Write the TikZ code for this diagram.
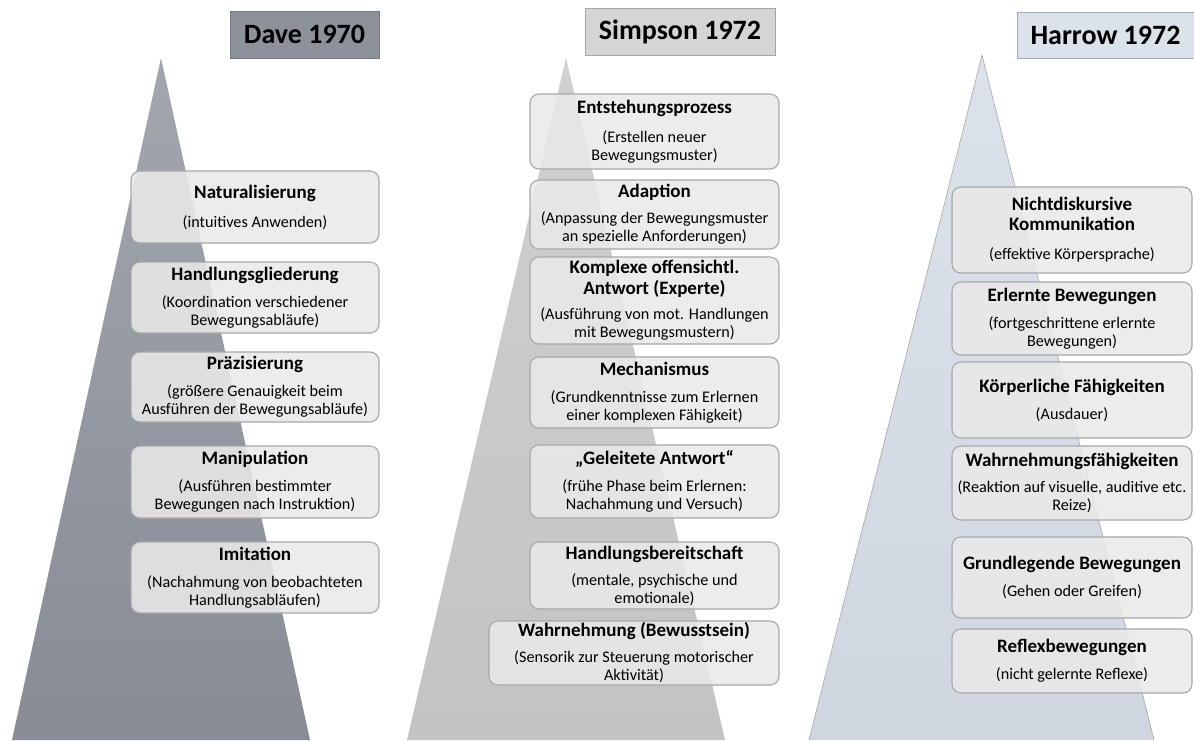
\documentclass[tikz,border=0pt]{standalone}
\usepackage{fontspec}
\setmainfont{Carlito}
\definecolor{daveoben}{HTML}{A2A6AD}
\definecolor{daveunten}{HTML}{878C95}
\definecolor{simpoben}{HTML}{D0D0D0}
\definecolor{simpunten}{HTML}{C3C3C3}
\definecolor{harroben}{HTML}{DCE2EA}
\definecolor{harrunten}{HTML}{CFD6E0}
\definecolor{boxgrau}{HTML}{E9E9E9}
\definecolor{boxrand}{HTML}{A8A8A8}
\newcommand{\titel}[1]{{\fontsize{19}{22}\selectfont\bfseries #1}}
\begin{document}
\begin{tikzpicture}[x=1pt,y=-1pt,
	stufe/.style={draw=boxrand, line width=1.1pt, fill=boxgrau, fill opacity=0.88, text opacity=1,
		rounded corners=9pt, align=center, inner sep=0pt, font=\fontsize{16.2}{18}\selectfont},
	kopf/.style={line width=0.8pt, inner sep=0pt, font=\fontsize{28}{32}\selectfont\bfseries}]
			%\draw[help lines, color=gray!30] (0,0) grid[step=50] (1194,740);
			\useasboundingbox (0,0) rectangle (1194,740);
			% Pyramiden
			\shade[top color=daveoben, bottom color=daveunten] (161,58) -- (12,740) -- (310,740) -- cycle;
			\shade[top color=simpoben, bottom color=simpunten] (566,58) -- (407,740) -- (725,740) -- cycle;
			\shade[top color=harroben, bottom color=harrunten] (982,55) -- (809,740) -- (1154,740) -- cycle;
			\draw[gray!70, line width=0.6pt] (809,740) -- (982,55) -- (1154,740);
			% Ueberschriften
			\node[kopf, fill=daveunten!95!white, draw=daveunten!85!black, minimum width=149pt, minimum height=47pt] (dave) at (304.5,34.5) {Dave 1970};
			\node[kopf, fill=simpoben!90!white, draw=simpunten!85!black, minimum width=190pt, minimum height=47pt] (simpson) at (680,31.5) {Simpson 1972};
			\node[kopf, fill=harroben, draw=harrunten!80!black, minimum width=177pt, minimum height=46pt] (harrow) at (1105.5,35) {Harrow 1972};
			% Dave
			\node[stufe, minimum width=248pt, minimum height=72pt] (natur) at (255,207) {\titel{Naturalisierung}\\[11pt](intuitives Anwenden)};
			\node[stufe, minimum width=248pt, minimum height=71pt] (gliederung) at (255,297.5) {\titel{Handlungsgliederung}\\[9pt](Koordination verschiedener\\Bewegungsabläufe)};
			\node[stufe, minimum width=248pt, minimum height=70pt] (praez) at (255,387) {\titel{Präzisierung}\\[9pt](größere Genauigkeit beim\\Ausführen der Bewegungsabläufe)};
			\node[stufe, minimum width=248pt, minimum height=72pt] (manip) at (255,482) {\titel{Manipulation}\\[9pt](Ausführen bestimmter\\Bewegungen nach Instruktion)};
			\node[stufe, minimum width=248pt, minimum height=71pt] (imit) at (255,577.5) {\titel{Imitation}\\[9pt](Nachahmung von beobachteten\\Handlungsabläufen)};
			% Simpson
			\node[stufe, minimum width=249pt, minimum height=75pt] (entsteh) at (654.5,131.5) {\titel{Entstehungsprozess}\\[11pt](Erstellen neuer\\Bewegungsmuster)};
			\node[stufe, minimum width=249pt, minimum height=69pt] (adapt) at (654.5,214.5) {\titel{Adaption}\\[8pt](Anpassung der Bewegungsmuster\\an spezielle Anforderungen)};
			\node[stufe, minimum width=249pt, minimum height=87pt] (komplex) at (654.5,300.5) {\titel{Komplexe offensichtl.}\\[3pt]\titel{Antwort (Experte)}\\[7pt](Ausführung von mot. Handlungen\\mit Bewegungsmustern)};
			\node[stufe, minimum width=249pt, minimum height=71pt] (mechan) at (654.5,392.5) {\titel{Mechanismus}\\[9pt](Grundkenntnisse zum Erlernen\\einer komplexen Fähigkeit)};
			\node[stufe, minimum width=249pt, minimum height=73pt] (geleitet) at (654.5,481.5) {\titel{„Geleitete Antwort“}\\[9pt](frühe Phase beim Erlernen:\\Nachahmung und Versuch)};
			\node[stufe, minimum width=249pt, minimum height=67pt] (bereit) at (654.5,575.5) {\titel{Handlungsbereitschaft}\\[8pt](mentale, psychische und\\emotionale)};
			\node[stufe, minimum width=290pt, minimum height=64pt] (wahrn) at (634,653) {\titel{Wahrnehmung (Bewusstsein)}\\[8pt](Sensorik zur Steuerung motorischer\\Aktivität)};
			% Harrow
			\node[stufe, minimum width=240pt, minimum height=86pt] (nichtdisk) at (1072,230) {\titel{Nichtdiskursive}\\[2pt]\titel{Kommunikation}\\[11pt](effektive Körpersprache)};
			\node[stufe, minimum width=240pt, minimum height=73pt] (erlernt) at (1072,318.5) {\titel{Erlernte Bewegungen}\\[9pt](fortgeschrittene erlernte\\Bewegungen)};
			\node[stufe, minimum width=240pt, minimum height=76pt] (koerper) at (1072,400) {\titel{Körperliche Fähigkeiten}\\[9pt](Ausdauer)};
			\node[stufe, minimum width=240pt, minimum height=74pt] (wahrnf) at (1072,483) {\titel{Wahrnehmungsfähigkeiten}\\[8pt](Reaktion auf visuelle, auditive etc.\\Reize)};
			\node[stufe, minimum width=240pt, minimum height=81pt] (grundl) at (1072,577.5) {\titel{Grundlegende Bewegungen}\\[9pt](Gehen oder Greifen)};
			\node[stufe, minimum width=240pt, minimum height=64pt] (reflex) at (1072,661) {\titel{Reflexbewegungen}\\[9pt](nicht gelernte Reflexe)};
\end{tikzpicture}
\end{document}
